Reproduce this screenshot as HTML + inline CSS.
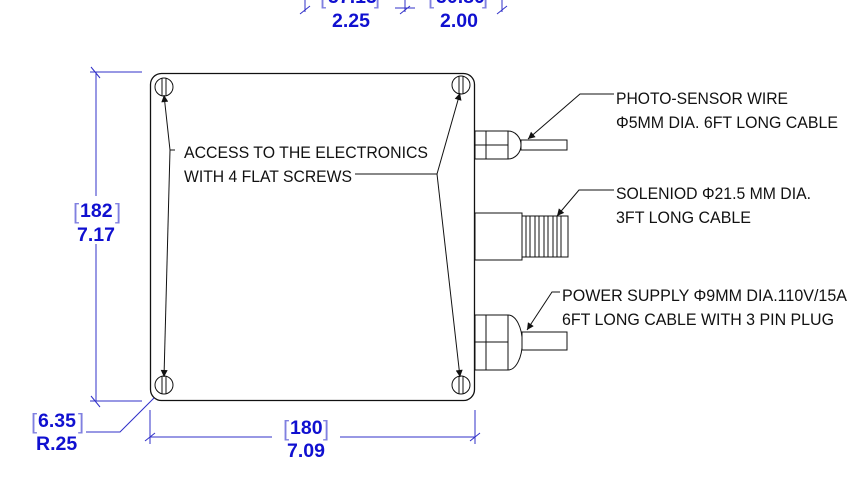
<!DOCTYPE html>
<html><head><meta charset="utf-8"><style>
html,body{margin:0;padding:0;background:#fff;width:866px;height:500px;overflow:hidden}
svg{display:block}
.t{font-family:"Liberation Sans",sans-serif;font-size:17px;fill:#111}
.d{font-family:"Liberation Sans",sans-serif;font-size:19.5px;font-weight:bold;fill:#1010d0}
.b{font-family:"Liberation Sans",sans-serif;font-size:22px;fill:#8080e0}
</style></head><body>
<svg width="866" height="500" viewBox="0 0 866 500" xmlns="http://www.w3.org/2000/svg">
<defs>
<marker id="ar" viewBox="0 0 10 10" refX="10" refY="5" markerWidth="12" markerHeight="7" orient="auto-start-reverse" markerUnits="userSpaceOnUse"><path d="M0,0 L10,5 L0,10 z" fill="#111"/></marker>
</defs>
<!-- top dims -->
<g stroke="#3030c8" stroke-width="1" fill="none">
<line x1="305" y1="0" x2="305" y2="12"/><line x1="300" y1="14" x2="310" y2="6"/>
<line x1="395" y1="8" x2="415" y2="8"/><line x1="405" y1="0" x2="405" y2="12"/><line x1="400" y1="14" x2="410" y2="6"/>
<line x1="502" y1="0" x2="502" y2="12"/><line x1="497" y1="14" x2="507" y2="6"/>
</g>
<text class="b" x="320" y="4">[</text><text class="b" x="374" y="4">]</text>
<text class="d" x="328" y="3">57.15</text>
<text class="b" x="428" y="4">[</text><text class="b" x="482" y="4">]</text>
<text class="d" x="436" y="3">50.80</text>
<text class="d" x="332" y="27">2.25</text>
<text class="d" x="440" y="27">2.00</text>
<!-- box -->
<rect x="150.5" y="73.5" width="324" height="327" rx="11" fill="none" stroke="#111" stroke-width="1.3"/>
<g fill="none" stroke="#111" stroke-width="1">
<circle cx="164" cy="87" r="9"/><line x1="162" y1="78" x2="162" y2="96"/><line x1="166" y1="78" x2="166" y2="96"/>
<circle cx="461" cy="85" r="9"/><line x1="459" y1="76" x2="459" y2="94"/><line x1="463" y1="76" x2="463" y2="94"/>
<circle cx="164" cy="385" r="9"/><line x1="162" y1="376" x2="162" y2="394"/><line x1="166" y1="376" x2="166" y2="394"/>
<circle cx="461" cy="385" r="9"/><line x1="459" y1="376" x2="459" y2="394"/><line x1="463" y1="376" x2="463" y2="394"/>
</g>
<!-- leaders -->
<g fill="none" stroke="#111" stroke-width="1">
<polyline points="175,150 170,150 164,95" marker-end="url(#ar)"/>
<polyline points="170,150 164,377" marker-end="url(#ar)"/>
<polyline points="355,174 437,174 460,93" marker-end="url(#ar)"/>
<polyline points="437,174 460,377" marker-end="url(#ar)"/>
</g>
<text class="t" x="184" y="158" textLength="244" lengthAdjust="spacingAndGlyphs">ACCESS TO THE ELECTRONICS</text>
<text class="t" x="184" y="182" textLength="168" lengthAdjust="spacingAndGlyphs">WITH 4 FLAT SCREWS</text>
<!-- photo sensor -->
<g fill="#fff" stroke="#111" stroke-width="1">
<path d="M475,131 H508 A13,14 0 0 1 508,159 H475 Z"/>
<line x1="486" y1="131" x2="486" y2="159"/><line x1="475" y1="145" x2="508" y2="145"/><line x1="508" y1="131" x2="508" y2="159"/>
<rect x="521" y="140" width="46" height="10"/>
</g>
<polyline points="614,94 580,94 528,139" fill="none" stroke="#111" marker-end="url(#ar)"/>
<text class="t" x="616" y="104" textLength="172" lengthAdjust="spacingAndGlyphs">PHOTO-SENSOR WIRE</text>
<text class="t" x="616" y="128" textLength="222" lengthAdjust="spacingAndGlyphs">Φ5MM DIA. 6FT LONG CABLE</text>
<!-- solenoid -->
<g fill="#fff" stroke="#111" stroke-width="1">
<rect x="475" y="213" width="47" height="47"/>
<rect x="522" y="216" width="46" height="41"/>
<line x1="526" y1="216" x2="526" y2="257"/><line x1="530" y1="216" x2="530" y2="257"/>
<line x1="535" y1="216" x2="535" y2="257"/><line x1="539" y1="216" x2="539" y2="257"/>
<line x1="544" y1="216" x2="544" y2="257"/><line x1="548" y1="216" x2="548" y2="257"/>
<line x1="553" y1="216" x2="553" y2="257"/><line x1="557" y1="216" x2="557" y2="257"/>
<line x1="561" y1="216" x2="561" y2="257"/>
</g>
<polyline points="614,190 579,190 557,216" fill="none" stroke="#111" marker-end="url(#ar)"/>
<text class="t" x="616" y="199" textLength="195" lengthAdjust="spacingAndGlyphs">SOLENIOD Φ21.5 MM DIA.</text>
<text class="t" x="616" y="223" textLength="135" lengthAdjust="spacingAndGlyphs">3FT LONG CABLE</text>
<!-- power -->
<g fill="#fff" stroke="#111" stroke-width="1">
<path d="M475,315 H508 A14,27 0 0 1 508,370 H475 Z"/>
<line x1="486" y1="315" x2="486" y2="370"/><line x1="475" y1="342" x2="508" y2="342"/><line x1="508" y1="315" x2="508" y2="370"/>
<rect x="522" y="332" width="45" height="18"/>
</g>
<polyline points="560,292 552,292 527,330" fill="none" stroke="#111" marker-end="url(#ar)"/>
<text class="t" x="562" y="301" textLength="285" lengthAdjust="spacingAndGlyphs">POWER SUPPLY Φ9MM DIA.110V/15A</text>
<text class="t" x="562" y="325" textLength="272" lengthAdjust="spacingAndGlyphs">6FT LONG CABLE WITH 3 PIN PLUG</text>
<!-- left dim -->
<g stroke="#3030c8" stroke-width="1" fill="none">
<line x1="90" y1="72" x2="142" y2="72"/><line x1="90" y1="401" x2="142" y2="401"/>
<line x1="96" y1="72" x2="96" y2="196"/><line x1="96" y1="244" x2="96" y2="401"/>
<line x1="91" y1="67" x2="100" y2="78"/><line x1="91" y1="396" x2="100" y2="407"/>
<line x1="150" y1="410" x2="150" y2="444"/><line x1="475" y1="410" x2="475" y2="444"/>
<line x1="150" y1="437" x2="272" y2="437"/><line x1="340" y1="437" x2="475" y2="437"/>
<line x1="145" y1="441" x2="155" y2="433"/><line x1="470" y1="441" x2="480" y2="433"/>
<polyline points="86,432 120,432 154,398"/>
</g>
<text class="b" x="73" y="219">[</text><text class="b" x="115" y="219">]</text>
<text class="d" x="80" y="217">182</text>
<text class="d" x="77" y="241">7.17</text>
<text class="b" x="283" y="436">[</text><text class="b" x="323" y="436">]</text>
<text class="d" x="290" y="434">180</text>
<text class="d" x="287" y="457">7.09</text>
<text class="b" x="31" y="429">[</text><text class="b" x="78" y="429">]</text>
<text class="d" x="38" y="427">6.35</text>
<text class="d" x="36" y="450">R.25</text>
</svg>
</body></html>
